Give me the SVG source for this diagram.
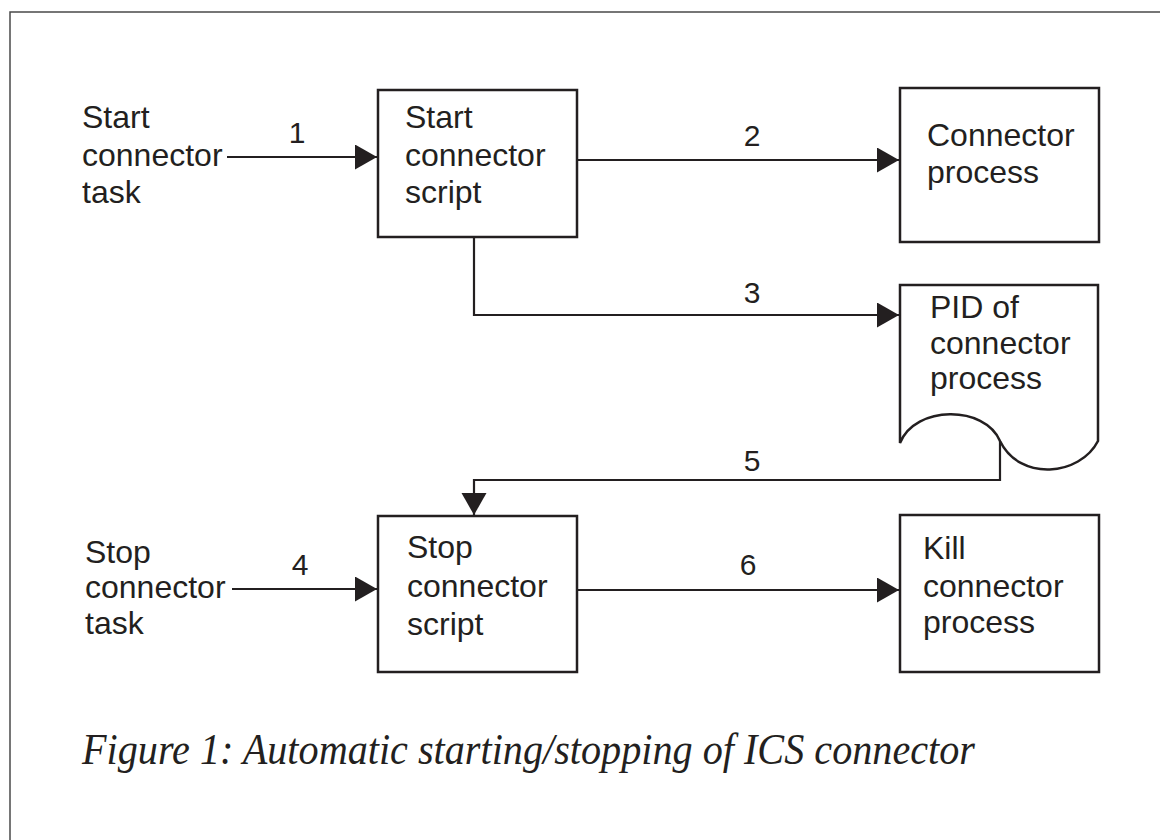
<svg xmlns="http://www.w3.org/2000/svg" width="1160" height="840" viewBox="0 0 1160 840">
  <style>
    .box { fill: #ffffff; stroke: #231f20; stroke-width: 2.5; }
    .line { fill: none; stroke: #231f20; stroke-width: 2.2; }
    .t { font-family: "Liberation Sans", Arial, sans-serif; font-size: 32px; fill: #231f20; }
    .n { font-family: "Liberation Sans", Arial, sans-serif; font-size: 30px; fill: #231f20; text-anchor: middle; }
    .cap { font-family: "Liberation Serif", "Times New Roman", serif; font-style: italic; font-size: 44px; fill: #231f20; }
  </style>
  <defs>
    <marker id="arrow" markerUnits="userSpaceOnUse" markerWidth="23" markerHeight="26" refX="22" refY="12.5" orient="auto">
      <path d="M0,0 L22,12.5 L0,25 Z" fill="#231f20"/>
    </marker>
  </defs>
  <rect x="0" y="0" width="1160" height="840" fill="#ffffff"/>
  <g id="frame">
    <path d="M10,840 L10,12 L1160,12" fill="none" stroke="#4a4a4a" stroke-width="1.5"/>
  </g>

  <g id="start-task">
    <text class="t" x="82" y="128">Start</text>
    <text class="t" x="82" y="166">connector</text>
    <text class="t" x="82" y="203">task</text>
  </g>
  <g id="start-script">
    <rect class="box" x="378" y="90" width="199" height="147"/>
    <text class="t" x="405" y="128">Start</text>
    <text class="t" x="405" y="166">connector</text>
    <text class="t" x="405" y="203">script</text>
  </g>
  <g id="connector-process">
    <rect class="box" x="900" y="88" width="199" height="154"/>
    <text class="t" x="927" y="146">Connector</text>
    <text class="t" x="927" y="183">process</text>
  </g>
  <g id="pid-file">
    <path class="box" d="M900,443 L900,285 L1098,285 L1098,441 C1080,476 1020,482 1000,441 C985,405 915,405 900,443 Z"/>
    <text class="t" x="930" y="318">PID of</text>
    <text class="t" x="930" y="354">connector</text>
    <text class="t" x="930" y="389">process</text>
  </g>
  <g id="stop-task">
    <text class="t" x="85" y="563">Stop</text>
    <text class="t" x="85" y="598">connector</text>
    <text class="t" x="85" y="634">task</text>
  </g>
  <g id="stop-script">
    <rect class="box" x="378" y="516" width="199" height="156"/>
    <text class="t" x="407" y="558">Stop</text>
    <text class="t" x="407" y="597">connector</text>
    <text class="t" x="407" y="635">script</text>
  </g>
  <g id="kill-process">
    <rect class="box" x="900" y="515" width="199" height="157"/>
    <text class="t" x="923" y="559">Kill</text>
    <text class="t" x="923" y="597">connector</text>
    <text class="t" x="923" y="633">process</text>
  </g>

  <g id="connectors">
    <path class="line" d="M227,157 L377,157" marker-end="url(#arrow)"/>
    <path class="line" d="M577,160 L899,160" marker-end="url(#arrow)"/>
    <path class="line" d="M474,237 L474,315 L899,315" marker-end="url(#arrow)"/>
    <path class="line" d="M1000,441 L1000,480 L474,480 L474,515" marker-end="url(#arrow)"/>
    <path class="line" d="M232,589 L377,589" marker-end="url(#arrow)"/>
    <path class="line" d="M577,590 L899,590" marker-end="url(#arrow)"/>
  </g>
  <g id="labels">
    <text class="n" x="297" y="143">1</text>
    <text class="n" x="752" y="146">2</text>
    <text class="n" x="752" y="303">3</text>
    <text class="n" x="300" y="575">4</text>
    <text class="n" x="752" y="471">5</text>
    <text class="n" x="748" y="575">6</text>
  </g>
  <g id="caption">
    <text class="cap" x="82" y="764" textLength="893" lengthAdjust="spacingAndGlyphs">Figure 1: Automatic starting/stopping of ICS connector</text>
  </g>
</svg>
